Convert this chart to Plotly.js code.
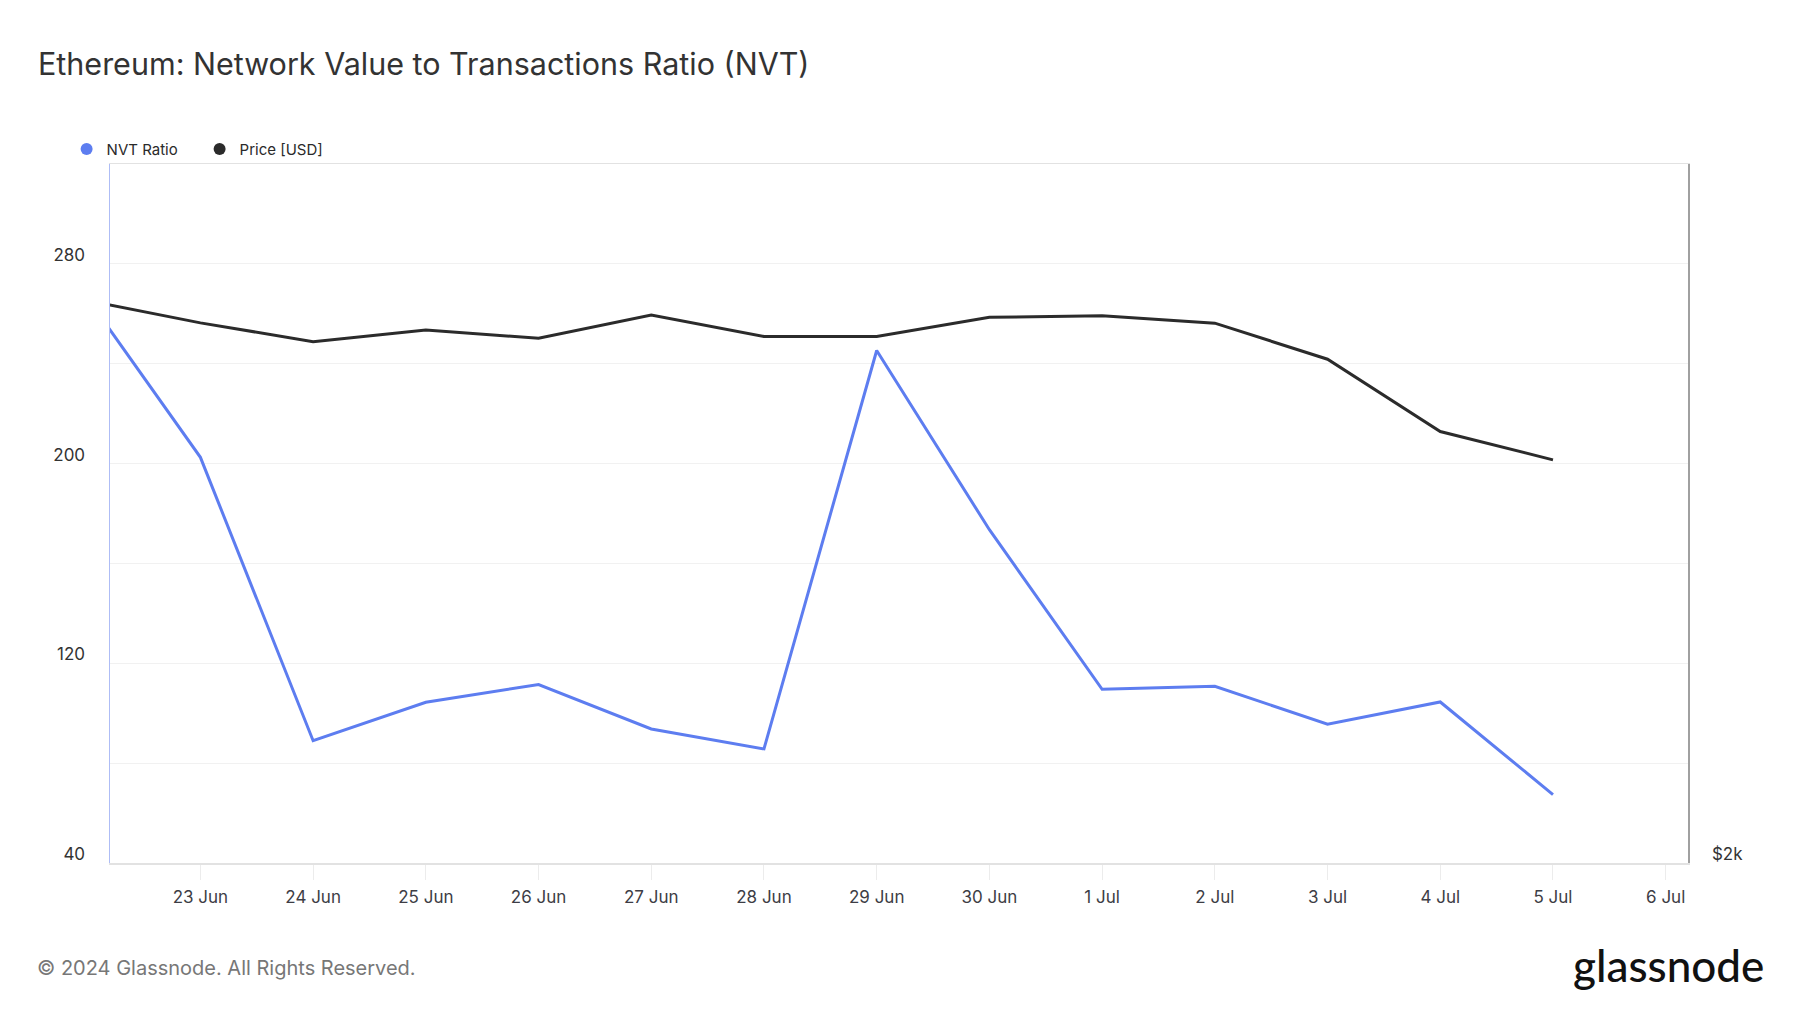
<!DOCTYPE html>
<html>
<head>
<meta charset="utf-8">
<script src="https://cdn.plot.ly/plotly-3.0.1.min.js"></script>
<style>
  html, body { margin: 0; padding: 0; background: #fff; }
  #chart { width: 1800px; height: 1013px; }
</style>
</head>
<body>
<div id="chart"></div>
<script>
// daily values
var dates = ['2024-06-22', '2024-06-23', '2024-06-24', '2024-06-25', '2024-06-26', '2024-06-27',
             '2024-06-28', '2024-06-29', '2024-06-30', '2024-07-01', '2024-07-02', '2024-07-03',
             '2024-07-04', '2024-07-05'];
var nvtRatio = [266.2, 202.5, 89.0, 104.4, 111.5, 93.7, 85.7, 245.3, 173.5, 109.6, 110.8, 95.6, 104.5, 67.4];
var priceUsd = [3493, 3417, 3354, 3393, 3365, 3444, 3371, 3371, 3436, 3441, 3416, 3296, 3068, 2983];

var xTicks = ['2024-06-23', '2024-06-24', '2024-06-25', '2024-06-26', '2024-06-27', '2024-06-28',
              '2024-06-29', '2024-06-30', '2024-07-01', '2024-07-02', '2024-07-03', '2024-07-04',
              '2024-07-05', '2024-07-06'];
var nvtTicks = [40, 80, 120, 160, 200, 240, 280];
var nvtTickText = ['40', '', '120', '', '200', '', '280'];
var priceTicks = [2000];
var priceTickText = ['$2k'];

var blue = '#5d7df0';
var dark = '#2b2b2b';

var traceNvt = {
  x: dates,
  y: nvtRatio,
  type: 'scatter',
  mode: 'lines',
  name: 'NVT Ratio',
  showlegend: false,
  line: {color: blue, width: 3}
};
var tracePrice = {
  x: dates,
  y: priceUsd,
  type: 'scatter',
  mode: 'lines',
  name: 'Price [USD]',
  yaxis: 'y2',
  showlegend: false,
  line: {color: dark, width: 3}
};
// legend entries drawn as dots, like the original
var legNvt = {
  x: [null], y: [null], type: 'scatter', mode: 'markers', name: 'NVT Ratio',
  marker: {color: blue, size: 12}
};
var legPrice = {
  x: [null], y: [null], type: 'scatter', mode: 'markers', name: 'Price [USD]',
  marker: {color: dark, size: 12}
};

var data = [traceNvt, tracePrice, legNvt, legPrice];

var layout = {
  width: 1800,
  height: 1013,
  margin: {l: 110, r: 112, t: 164, b: 150},
  paper_bgcolor: '#ffffff',
  plot_bgcolor: '#ffffff',
  font: {family: 'Inter, "Noto Sans", sans-serif', color: '#333333'},
  title: {
    text: 'Ethereum: Network Value to Transactions Ratio (NVT)',
    font: {size: 30.5, color: '#333333'},
    xref: 'container', x: 38 / 1800, xanchor: 'left',
    yref: 'container', y: 1 - 64 / 1013, yanchor: 'middle'
  },
  showlegend: true,
  legend: {
    orientation: 'h',
    x: -0.0275, xanchor: 'left',
    y: 1.021, yanchor: 'middle',
    font: {size: 15, color: '#2a2a2a'},
    itemwidth: 30,
    entrywidth: 88, entrywidthmode: 'pixels',
    bgcolor: 'rgba(0,0,0,0)'
  },
  xaxis: {
    type: 'date',
    range: ['2024-06-22 04:45', '2024-07-06 04:45'],
    tickvals: xTicks,
    tickformat: '%-d %b',
    showgrid: false,
    zeroline: false,
    showline: true,
    mirror: true,
    linecolor: '#e2e2e2',
    linewidth: 1.5,
    ticks: 'outside',
    ticklen: 15,
    tickwidth: 1,
    tickcolor: '#ececec',
    ticklabelstandoff: 3,
    tickfont: {size: 17, color: '#3d3d45'}
  },
  yaxis: {
    range: [40, 320],
    tickvals: nvtTicks,
    ticktext: nvtTickText,
    showgrid: true,
    gridcolor: '#f1f1f1',
    gridwidth: 1,
    zeroline: false,
    showline: true,
    linecolor: '#aebdf6',
    linewidth: 1.5,
    ticks: '',
    ticklabelstandoff: 20,
    ticklabelshift: -9,
    tickfont: {size: 17, color: '#333333'}
  },
  yaxis2: {
    type: 'log',
    overlaying: 'y',
    side: 'right',
    range: [Math.log10(2000), Math.log10(4000)],
    tickvals: priceTicks,
    ticktext: priceTickText,
    showgrid: false,
    zeroline: false,
    showline: true,
    linecolor: '#a0a0a0',
    linewidth: 1.5,
    ticks: '',
    ticklabelstandoff: 19,
    ticklabelshift: -9,
    tickfont: {size: 17, color: '#333333'}
  },
  annotations: [
    {
      text: '© 2024 Glassnode. All Rights Reserved.',
      xref: 'paper', yref: 'paper',
      x: -0.0478, y: -0.150, xanchor: 'left', yanchor: 'middle',
      showarrow: false,
      font: {size: 20, color: '#777777'}
    },
    {
      text: 'glassnode',
      xref: 'paper', yref: 'paper',
      x: 1.0495, y: -0.1455, xanchor: 'right', yanchor: 'middle',
      showarrow: false,
      font: {family: 'Lato, sans-serif', size: 44, color: '#111111', weight: 500}
    }
  ]
};

Plotly.newPlot('chart', data, layout, {displayModeBar: false, staticPlot: true});
</script>
</body>
</html>
